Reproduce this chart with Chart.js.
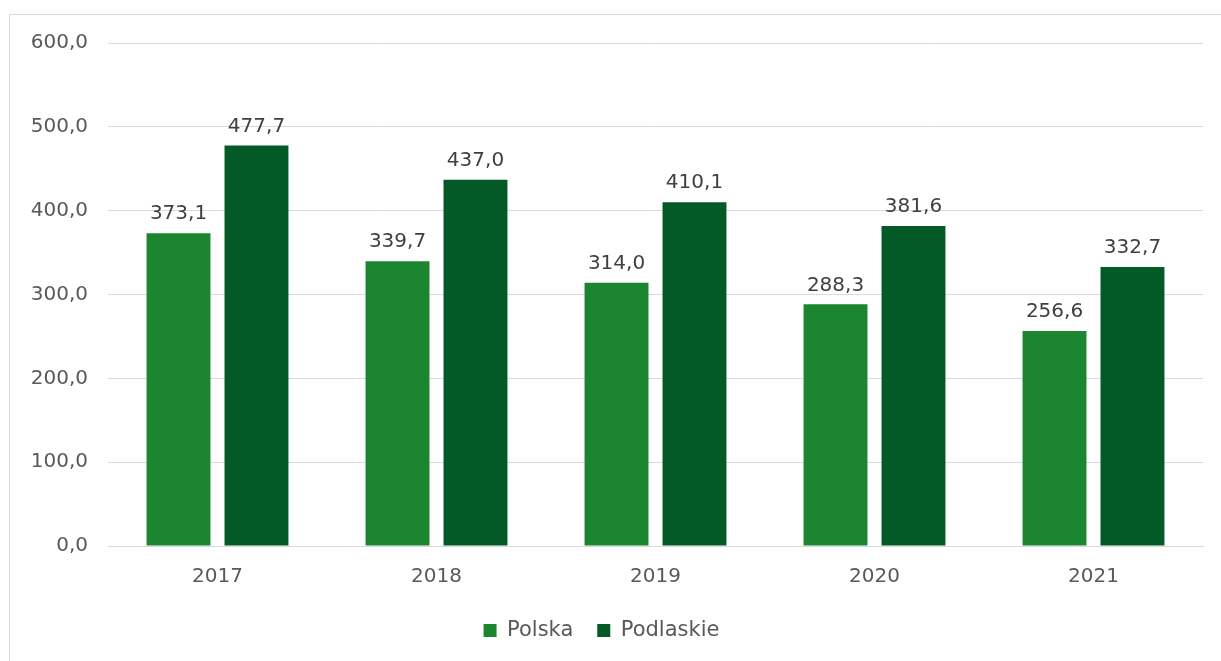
<!DOCTYPE html>
<html>
<head>
<meta charset="utf-8">
<script src="https://cdn.jsdelivr.net/npm/chart.js@4"></script>
<style>
  html, body { margin: 0; padding: 0; background: #fff; overflow: hidden; }
  #frame { position: absolute; left: 9px; top: 14px; width: 1240px; height: 700px; border: 1px solid #d9d9d9; }
  #wrap { position: absolute; left: 0; top: 0; width: 1221px; height: 661px; }
</style>
</head>
<body>
<div id="frame"></div>
<div id="wrap"><canvas id="grafica"></canvas></div>
<script>
var lata = ['2017', '2018', '2019', '2020', '2021'];
var polska = [373.1, 339.7, 314.0, 288.3, 256.6];
var podlaskie = [477.7, 437.0, 410.1, 381.6, 332.7];
var nazwySerii = ['Polska', 'Podlaskie'];

var fontRodzina = '"DejaVu Sans", sans-serif';
var szary = '#595959';

function formatuj(v) {
  return v.toFixed(1).replace('.', ',');
}

// etykiety wartości nad słupkami
var etykiety = {
  id: 'etykiety',
  afterDatasetsDraw: function(chart) {
    var ctx = chart.ctx;
    ctx.save();
    ctx.font = '20px ' + fontRodzina;
    ctx.fillStyle = '#404040';
    ctx.textAlign = 'center';
    ctx.textBaseline = 'bottom';
    chart.data.datasets.forEach(function(ds, i) {
      var meta = chart.getDatasetMeta(i);
      meta.data.forEach(function(bar, j) {
        ctx.fillText(formatuj(ds.data[j]), bar.x, bar.y - 9);
      });
    });
    ctx.restore();
  }
};

var ctx = document.getElementById('grafica').getContext('2d');
var chart = new Chart(ctx, {
  type: 'bar',
  data: {
    labels: lata,
    datasets: [{
      label: nazwySerii[0],
      data: polska,
      backgroundColor: '#1b862f',
      categoryPercentage: 0.712,
      barPercentage: 0.82
    }, {
      label: nazwySerii[1],
      data: podlaskie,
      backgroundColor: '#035a27',
      categoryPercentage: 0.712,
      barPercentage: 0.82
    }]
  },
  options: {
    responsive: true,
    maintainAspectRatio: false,
    animation: false,
    layout: { padding: { left: 0, right: 18, top: 43, bottom: 10 } },
    plugins: {
      legend: {
        position: 'bottom',
        labels: {
          color: szary,
          font: { family: fontRodzina, size: 21 },
          boxWidth: 13,
          boxHeight: 13,
          padding: 24
        }
      },
      tooltip: { enabled: false }
    },
    scales: {
      x: {
        grid: { display: false },
        border: { display: true, color: '#d9d9d9' },
        ticks: { color: szary, font: { family: fontRodzina, size: 20 }, padding: 11 },
        afterFit: function(scale) { scale.height = 50; }
      },
      y: {
        min: 0,
        max: 600,
        grid: { color: '#d9d9d9', drawTicks: false },
        border: { display: false },
        ticks: {
          stepSize: 100,
          color: szary,
          font: { family: fontRodzina, size: 20 },
          padding: 20,
          callback: function(v) { return formatuj(v); }
        },
        afterFit: function(scale) { scale.width = 108; }
      }
    }
  },
  plugins: [etykiety]
});
</script>
</body>
</html>
